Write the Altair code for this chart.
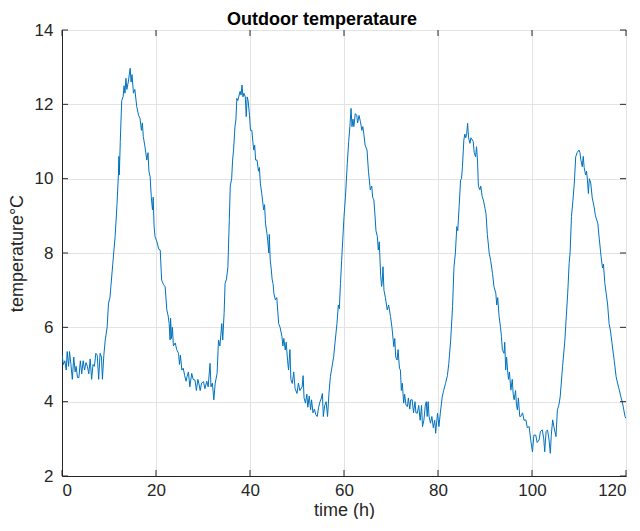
import altair as alt
import pandas as pd

chart_title = ["Outdoor temperataure"]

time_h = [
    0.0, 0.3, 0.6, 0.9, 1.1, 1.4, 1.6, 1.9, 2.2, 2.5, 2.8, 3.0, 3.3, 3.6, 3.9, 4.2, 4.5, 4.8, 5.1, 5.4,
    5.7, 6.0, 6.3, 6.6, 6.9, 7.2, 7.5, 7.8, 8.1, 8.4, 8.6, 8.9, 9.2, 9.6, 9.9, 10.2, 10.4, 10.8, 11.3, 11.7,
    12.0, 12.1, 12.2, 12.4, 12.7, 13.0, 13.2, 13.4, 13.6, 13.8, 14.1, 14.5, 14.7, 14.9, 15.2, 15.5, 15.9, 16.3, 16.6, 16.9,
    17.1, 17.3, 17.6, 18.05, 18.3, 18.5, 18.75, 19.0, 19.25, 19.4, 19.6, 19.8, 20.2, 20.6, 20.9, 21.2, 21.6, 21.95, 22.3, 22.6,
    22.8, 23.0, 23.1, 23.3, 23.5, 23.7, 24.1, 24.4, 24.8, 25.0, 25.2, 25.5, 25.8, 26.1, 26.4, 26.6, 26.9, 27.2, 27.6, 27.9,
    28.3, 28.6, 28.9, 29.1, 29.4, 29.7, 30.1, 30.4, 30.8, 31.1, 31.5, 31.7, 32.0, 32.3, 32.6, 33.0, 33.3, 33.6, 34.0, 34.2,
    34.5, 34.7, 35.0, 35.3, 35.6, 35.8, 36.1, 36.3, 36.5, 36.8, 37.0, 37.2, 37.4, 37.6, 37.9, 38.1, 38.3, 38.5, 38.7, 39.0,
    39.2, 39.4, 39.6, 39.9, 40.1, 40.4, 40.6, 40.8, 41.0, 41.2, 41.5, 41.8, 42.0, 42.2, 42.5, 42.9, 43.1, 43.3, 43.6, 43.8,
    44.0, 44.1, 44.3, 44.5, 44.7, 44.9, 45.1, 45.4, 45.7, 46.1, 46.4, 46.8, 47.0, 47.2, 47.5, 47.7, 48.0, 48.2, 48.5, 48.7,
    49.0, 49.3, 49.6, 50.0, 50.3, 50.6, 51.1, 51.3, 51.5, 51.8, 52.1, 52.3, 52.6, 52.9, 53.1, 53.4, 53.7, 54.0, 54.3, 54.6,
    54.9, 55.2, 55.4, 55.6, 55.9, 56.2, 56.5, 56.8, 57.1, 57.4, 57.8, 58.1, 58.5, 58.8, 59.0, 59.25, 59.5, 60.0, 60.3, 60.7,
    61.0, 61.25, 61.5, 61.7, 61.9, 62.1, 62.4, 62.7, 62.9, 63.2, 63.5, 63.8, 64.0, 64.2, 64.5, 64.9, 65.2, 65.6, 65.9, 66.1,
    66.35, 66.6, 66.8, 67.1, 67.3, 67.5, 67.8, 68.0, 68.1, 68.3, 68.5, 68.8, 69.2, 69.5, 69.9, 70.2, 70.6, 70.8, 71.0, 71.3,
    71.5, 71.8, 72.0, 72.2, 72.4, 72.7, 72.9, 73.2, 73.5, 73.7, 74.0, 74.2, 74.5, 74.8, 75.1, 75.3, 75.6, 75.9, 76.2, 76.5,
    76.7, 77.0, 77.3, 77.5, 77.7, 77.9, 78.1, 78.4, 78.7, 79.0, 79.3, 79.5, 79.9, 80.2, 80.5, 80.9, 81.2, 81.6, 82.0, 82.3,
    82.7, 83.1, 83.4, 83.7, 84.0, 84.2, 84.5, 84.8, 85.0, 85.2, 85.5, 85.7, 85.9, 86.1, 86.3, 86.5, 86.8, 87.0, 87.3, 87.5,
    87.7, 88.0, 88.2, 88.4, 88.6, 88.9, 89.1, 89.4, 89.7, 90.0, 90.2, 90.5, 90.9, 91.2, 91.6, 91.9, 92.3, 92.5, 92.7, 93.0,
    93.3, 93.5, 93.7, 94.05, 94.2, 94.4, 94.6, 94.8, 95.0, 95.2, 95.5, 95.8, 96.0, 96.2, 96.5, 96.7, 96.9, 97.1, 97.4, 97.6,
    98.0, 98.3, 98.7, 99.0, 99.4, 99.7, 100.1, 100.4, 100.8, 101.1, 101.5, 101.8, 102.2, 102.5, 102.7, 103.0, 103.3, 103.6, 103.9, 104.1,
    104.4, 104.7, 105.1, 105.4, 105.7, 106.0, 106.5, 107.0, 107.3, 107.6, 107.9, 108.1, 108.4, 108.7, 109.0, 109.3, 109.6, 110.0, 110.2, 110.4,
    110.7, 110.9, 111.1, 111.4, 111.6, 111.8, 112.0, 112.2, 112.5, 112.8, 113.2, 113.5, 114.0, 114.3, 114.7, 115.0, 115.2, 115.5, 115.8, 116.1,
    116.4, 116.7, 117.0, 117.2, 117.5, 117.9, 118.2, 118.5, 118.9, 119.2, 119.5, 119.8, 120.0,
]

temperature_c = [
    5.26, 5.0, 5.1, 4.85, 5.35, 4.95, 5.35, 5.0, 4.6, 5.2, 4.8, 4.95, 4.65, 4.65, 5.1, 4.75, 5.1, 4.85, 5.05, 4.95,
    4.75, 5.15, 4.6, 5.0, 4.95, 5.3, 5.25, 4.6, 5.3, 5.2, 4.6, 5.25, 5.66, 6.0, 6.65, 6.8, 7.1, 7.7, 8.44, 9.3,
    10.1, 10.6, 10.1, 11.0, 12.1, 12.2, 12.5, 12.3, 12.7, 12.4, 12.6, 12.97, 12.6, 12.8, 12.3, 12.4, 11.94, 11.7, 11.62, 11.3,
    11.5, 11.13, 10.9, 10.5, 10.7, 10.2, 10.05, 9.5, 9.16, 9.5, 8.7, 8.44, 8.3, 8.1, 8.08, 7.27, 7.15, 7.09, 6.47, 6.3,
    6.1, 5.66, 6.25, 5.7, 6.0, 5.5, 5.58, 5.4, 5.3, 5.0, 5.25, 4.85, 4.9, 4.7, 4.55, 4.67, 4.8, 4.4, 4.76, 4.6,
    4.58, 4.3, 4.6, 4.5, 4.3, 4.5, 4.54, 4.35, 4.55, 4.4, 5.03, 4.4, 4.5, 4.05, 4.5, 4.76, 5.66, 5.5, 6.1, 5.66,
    6.4, 7.18, 7.3, 7.63, 8.9, 9.8, 10.0, 10.5, 10.77, 11.4, 11.58, 12.16, 12.1, 12.2, 12.35, 12.25, 12.52, 12.2, 12.3, 12.2,
    11.67, 12.2, 12.1, 11.7, 11.3, 11.3, 11.0, 10.77, 10.9, 10.5, 10.5, 10.2, 10.3, 9.88, 9.6, 9.16, 9.3, 8.8, 8.53, 8.3,
    8.0, 8.5, 7.81, 7.6, 7.3, 7.18, 6.9, 6.74, 6.8, 6.1, 6.0, 5.75, 5.5, 5.7, 5.39, 5.6, 5.1, 4.85, 5.4, 4.6,
    4.49, 4.8, 4.35, 4.22, 4.5, 4.3, 4.4, 4.7, 4.1, 3.96, 4.2, 3.85, 4.15, 3.78, 4.05, 3.7, 3.8, 3.65, 3.6, 3.85,
    4.0, 4.1, 4.22, 3.6, 3.9, 4.0, 3.6, 4.22, 4.67, 4.9, 5.21, 5.6, 6.1, 6.6, 6.5, 7.18, 7.8, 8.98, 9.5, 10.41,
    11.0, 11.4, 11.89, 11.4, 11.6, 11.4, 11.75, 11.71, 11.5, 11.7, 11.53, 11.3, 11.4, 11.22, 10.9, 10.77, 10.2, 9.7, 9.8, 9.5,
    9.43, 9.0, 8.6, 8.44, 8.08, 8.3, 7.4, 7.1, 7.18, 7.63, 7.0, 6.8, 6.47, 6.6, 6.29, 6.0, 5.48, 5.7, 5.2, 5.12,
    5.4, 4.9, 4.85, 4.3, 4.5, 3.96, 4.2, 3.9, 3.87, 4.1, 3.8, 4.05, 4.05, 3.7, 4.0, 3.7, 3.69, 3.9, 3.5, 3.9,
    3.33, 3.5, 3.9, 4.0, 3.6, 4.0, 3.6, 3.42, 3.6, 3.3, 3.5, 3.15, 3.69, 3.33, 3.7, 4.13, 4.3, 4.49, 4.7, 5.03,
    5.66, 6.56, 7.63, 8.0, 8.71, 8.6, 9.25, 9.96, 10.0, 10.32, 11.04, 11.2, 11.1, 11.2, 11.49, 11.1, 10.95, 11.1, 11.04, 11.0,
    10.7, 10.59, 10.86, 10.5, 9.8, 9.7, 9.8, 9.52, 9.4, 9.2, 9.07, 8.5, 7.99, 7.8, 7.45, 7.1, 6.92, 6.6, 6.8, 6.29,
    6.0, 5.75, 5.4, 5.3, 5.6, 4.85, 5.2, 4.85, 4.6, 4.8, 4.31, 4.6, 4.2, 4.05, 4.3, 3.9, 3.78, 4.1, 3.6, 3.6,
    3.7, 3.5, 3.51, 3.3, 3.33, 3.0, 2.65, 3.1, 3.1, 2.9, 2.97, 3.2, 3.24, 3.0, 2.65, 3.2, 3.24, 3.0, 2.61, 3.1,
    3.51, 3.3, 3.06, 3.78, 3.9, 4.13, 4.94, 5.66, 6.3, 6.92, 7.72, 8.0, 8.98, 9.4, 9.88, 10.59, 10.7, 10.77, 10.7, 10.5,
    10.32, 10.6, 10.3, 10.1, 10.2, 9.96, 9.6, 10.0, 9.88, 9.5, 9.25, 9.0, 8.8, 8.4, 7.9, 7.6, 7.7, 7.18, 6.9, 6.6,
    6.1, 5.9, 5.6, 5.39, 5.1, 4.67, 4.5, 4.35, 4.13, 4.0, 3.8, 3.6, 3.55,
]

x_ticks = [0, 20, 40, 60, 80, 100, 120]
y_ticks = [2, 4, 6, 8, 10, 12, 14]

W, H = 564, 446
FONT = "Liberation Sans"
AX = "#262626"
TL = 6

df = pd.DataFrame({"t": time_h, "T": temperature_c})
xt = pd.DataFrame({"t": x_ticks})
yt = pd.DataFrame({"T": y_ticks})
tt = pd.DataFrame({"title": chart_title})

xs = alt.Scale(domain=[0, 120], nice=False, zero=False)
ys = alt.Scale(domain=[2, 14], nice=False, zero=False)

line = alt.Chart(df).mark_line(color="#0072BD", strokeWidth=1, clip=True).encode(
    x=alt.X("t:Q", scale=xs,
            axis=alt.Axis(title="time (h)", values=x_ticks, grid=True, tickSize=0,
                          labelPadding=6, titlePadding=3, format="d")),
    y=alt.Y("T:Q", scale=ys,
            axis=alt.Axis(title="temperature°C", values=y_ticks, grid=True, tickSize=0,
                          labelPadding=9, titlePadding=8, format="d")),
)

xtick_bot = alt.Chart(xt).mark_rule(color=AX, strokeWidth=1).encode(
    x="t:Q", y=alt.value(H), y2=alt.value(H - TL))
xtick_top = alt.Chart(xt).mark_rule(color=AX, strokeWidth=1).encode(
    x="t:Q", y=alt.value(0), y2=alt.value(TL))
ytick_l = alt.Chart(yt).mark_rule(color=AX, strokeWidth=1).encode(
    y="T:Q", x=alt.value(0), x2=alt.value(TL))
ytick_r = alt.Chart(yt).mark_rule(color=AX, strokeWidth=1).encode(
    y="T:Q", x=alt.value(W), x2=alt.value(W - TL))

title_txt = alt.Chart(tt).mark_text(
    font=FONT, fontSize=18, fontWeight="bold", color="#000000",
    align="center", baseline="alphabetic",
).encode(text="title:N", x=alt.value(260), y=alt.value(-5))

chart = alt.layer(line, xtick_bot, xtick_top, ytick_l, ytick_r, title_txt).properties(
    width=W, height=H,
    autosize=alt.AutoSizeParams(type="none"),
    padding={"left": 54, "top": 22, "right": 6, "bottom": 43},
).configure_view(stroke=AX, strokeWidth=1).configure_axis(
    domainColor=AX, domainWidth=1, gridColor="#e3e3e3", gridWidth=1,
    labelFont=FONT, labelFontSize=17, labelColor=AX,
    titleFont=FONT, titleFontSize=18, titleFontWeight="normal", titleColor=AX,
)

chart.save("out.html", embed_options={"renderer": "svg", "actions": False})
